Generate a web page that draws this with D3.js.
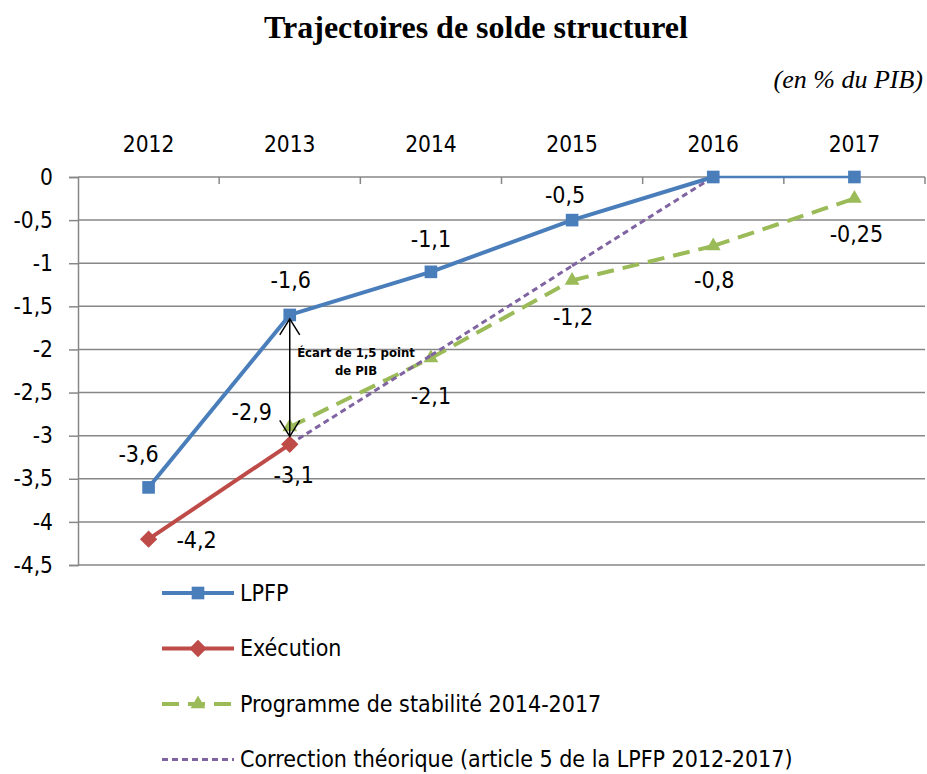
<!DOCTYPE html>
<html>
<head>
<meta charset="utf-8">
<script src="https://cdn.jsdelivr.net/npm/d3@7"></script>
<style>
  body { margin: 0; background: #fff; }
  svg { display: block; }
</style>
</head>
<body>
<div id="chart"></div>
<script>
// Chart data
const years = ["2012", "2013", "2014", "2015", "2016", "2017"];
const lpfp = [-3.6, -1.6, -1.1, -0.5, 0, 0];
const execution = [-4.2, -3.1, null, null, null, null];
const programme = [null, -2.9, -2.1, -1.2, -0.8, -0.25];
const correction = [null, -3.1, -2.07, -1.03, 0, null];
const yTicks = [0, -0.5, -1, -1.5, -2, -2.5, -3, -3.5, -4, -4.5];
const seriesNames = ["LPFP", "Exécution", "Programme de stabilité 2014-2017",
  "Correction théorique (article 5 de la LPFP 2012-2017)"];

// Page size and fonts
const W = 927, H = 774;
const font = "'DejaVu Sans Condensed', 'DejaVu Sans', sans-serif";
const serif = "'Liberation Serif', 'DejaVu Serif', serif";
const grid = "#878787";

const svg = d3.select("#chart").append("svg")
  .attr("width", W)
  .attr("height", H);

// Scales
const x = d3.scaleBand().domain(years).range([78, 925]);
const cx = d => x(d) + x.bandwidth() / 2;
const y = d3.scaleLinear().domain([-4.5, 0]).range([565, 177]);
const fmt = d => String(d).replace(".", ",");

// Title and unit
svg.append("text")
  .attr("x", 476).attr("y", 38)
  .attr("text-anchor", "middle")
  .style("font-family", serif)
  .style("font-weight", "bold")
  .style("font-size", "32px")
  .text("Trajectoires de solde structurel");

svg.append("text")
  .attr("x", 923).attr("y", 88)
  .attr("text-anchor", "end")
  .style("font-family", serif)
  .style("font-style", "italic")
  .style("font-size", "26px")
  .text("(en % du PIB)");

// Horizontal gridlines
svg.append("g")
  .selectAll("line")
  .data(yTicks.filter(d => d !== 0))
  .join("line")
  .attr("x1", 78).attr("x2", 925)
  .attr("y1", d => y(d)).attr("y2", d => y(d))
  .attr("stroke", grid)
  .attr("stroke-width", 1.5);

// Y axis on the left
const yAxis = svg.append("g")
  .attr("transform", "translate(78,0)")
  .call(d3.axisLeft(y).tickValues(yTicks).tickSize(9).tickPadding(16).tickFormat(fmt));
yAxis.select(".domain").attr("stroke", grid).attr("stroke-width", 1.5);
yAxis.selectAll(".tick line").attr("stroke", grid).attr("stroke-width", 1.5);
yAxis.selectAll("text")
  .style("font-family", font)
  .style("font-size", "22.5px")
  .attr("fill", "#000");

// Category axis at value 0, labels above the plot
svg.append("line")
  .attr("x1", 78).attr("x2", 925)
  .attr("y1", y(0)).attr("y2", y(0))
  .attr("stroke", grid).attr("stroke-width", 1.5);

svg.append("g")
  .selectAll("line")
  .data(years.slice(1).concat(["end"]))
  .join("line")
  .attr("x1", d => d === "end" ? 925 : x(d))
  .attr("x2", d => d === "end" ? 925 : x(d))
  .attr("y1", y(0)).attr("y2", y(0) + 7)
  .attr("stroke", grid).attr("stroke-width", 1.5);

svg.append("g")
  .selectAll("text")
  .data(years)
  .join("text")
  .attr("x", d => cx(d))
  .attr("y", 152)
  .attr("text-anchor", "middle")
  .style("font-family", font)
  .style("font-size", "22.5px")
  .text(d => d);

// Series styling (LPFP last segment is drawn thinner, as in the original)
const series = [
  { name: seriesNames[0], values: lpfp, color: "#4a7ebb", width: 4, lastWidth: 2.5, dash: null, marker: "square" },
  { name: seriesNames[1], values: execution, color: "#be4b48", width: 4, dash: null, marker: "diamond" },
  { name: seriesNames[2], values: programme, color: "#9bbb59", width: 4, dash: "17,9", marker: "triangle" },
  { name: seriesNames[3], values: correction, color: "#8064a2", width: 3, dash: "6,4", marker: null }
];

const symbolType = { square: d3.symbolSquare, diamond: d3.symbolSquare, triangle: d3.symbolTriangle };
const symbolSize = { square: 160, diamond: 150, triangle: 95 };
const symbolRot = { square: 0, diamond: 45, triangle: 0 };

// Draw order: programme, correction under the solid ones
[series[2], series[3], series[1], series[0]].forEach(s => {
  const pts = years.map((yr, i) => ({ year: yr, v: s.values[i] })).filter(d => d.v !== null);
  const segs = d3.pairs(pts);
  svg.append("g")
    .selectAll("line")
    .data(segs)
    .join("line")
    .attr("x1", d => cx(d[0].year)).attr("y1", d => y(d[0].v))
    .attr("x2", d => cx(d[1].year)).attr("y2", d => y(d[1].v))
    .attr("stroke", s.color)
    .attr("stroke-width", (d, i) => (s.lastWidth && i === segs.length - 1) ? s.lastWidth : s.width)
    .attr("stroke-dasharray", s.dash);
  if (s.marker) {
    svg.append("g")
      .selectAll("path")
      .data(pts)
      .join("path")
      .attr("transform", d => `translate(${cx(d.year)},${y(d.v)}) rotate(${symbolRot[s.marker]})`)
      .attr("d", d3.symbol().type(symbolType[s.marker]).size(symbolSize[s.marker]))
      .attr("fill", s.color);
  }
});

// Data labels: [series values, index, dx, dy] relative to the point
const labelPlaces = [
  [lpfp, 0, -10, -25], [lpfp, 1, 1, -27], [lpfp, 2, 0, -25], [lpfp, 3, -7, -17],
  [execution, 0, 48, 9], [execution, 1, 4, 39],
  [programme, 1, -38, -7], [programme, 2, 0, 46], [programme, 3, 1, 45],
  [programme, 4, 1, 42], [programme, 5, 2, 43]
];
svg.append("g")
  .selectAll("text")
  .data(labelPlaces)
  .join("text")
  .attr("x", d => cx(years[d[1]]) + d[2])
  .attr("y", d => y(d[0][d[1]]) + d[3])
  .attr("text-anchor", "middle")
  .style("font-family", font)
  .style("font-size", "23px")
  .text(d => fmt(d[0][d[1]]));

// Gap annotation between LPFP and execution in 2013
const ax = cx("2013");
const yTop = y(lpfp[1]) + 4, yBot = y(execution[1]) - 8;
const ann = svg.append("g").attr("stroke", "#000").attr("stroke-width", 1.5).attr("fill", "none");
ann.append("line").attr("x1", ax).attr("x2", ax).attr("y1", yTop).attr("y2", yBot);
ann.append("path").attr("d", `M${ax - 10},${yTop + 16}L${ax},${yTop}L${ax + 10},${yTop + 16}`);
ann.append("path").attr("d", `M${ax - 10},${yBot - 16}L${ax},${yBot}L${ax + 10},${yBot - 16}`);

svg.append("text")
  .attr("text-anchor", "middle")
  .style("font-family", font)
  .style("font-weight", "bold")
  .style("font-size", "13px")
  .selectAll("tspan")
  .data(["Écart de 1,5 point", "de PIB"])
  .join("tspan")
  .attr("x", 356)
  .attr("y", (d, i) => 357 + i * 18)
  .text(d => d);

// Legend
const legend = svg.append("g")
  .selectAll("g")
  .data(series)
  .join("g")
  .attr("transform", (d, i) => `translate(162,${593 + i * 55.5})`);

legend.append("line")
  .attr("x1", 0).attr("x2", 72)
  .attr("stroke", d => d.color)
  .attr("stroke-width", d => d.width)
  .attr("stroke-dasharray", d => d.dash);

legend.filter(d => d.marker)
  .append("path")
  .attr("transform", d => `translate(36,0) rotate(${symbolRot[d.marker]})`)
  .attr("d", d => d3.symbol().type(symbolType[d.marker]).size(symbolSize[d.marker])())
  .attr("fill", d => d.color);

legend.append("text")
  .attr("x", 78).attr("y", 7.5)
  .style("font-family", font)
  .style("font-size", "23px")
  .text(d => d.name);
</script>
</body>
</html>
